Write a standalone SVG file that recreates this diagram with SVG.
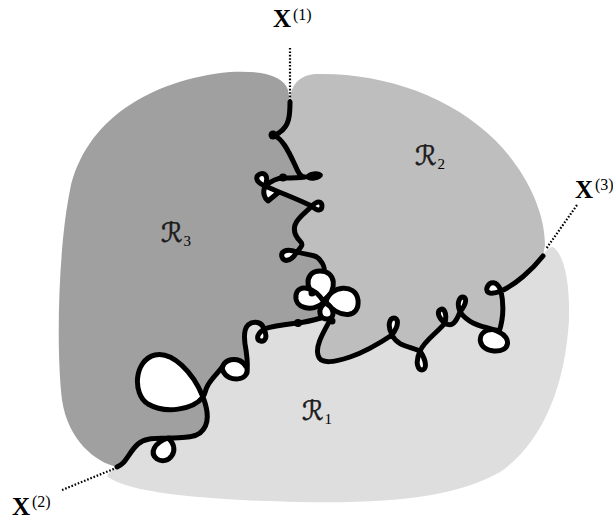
<svg xmlns="http://www.w3.org/2000/svg" width="613" height="523" viewBox="0 0 613 523">
<style>
.r1{fill:#dedede}
.r2{fill:#bebebe}
.r3{fill:#a0a0a0}
.hole{fill:#fff}
.curve{fill:none;stroke:#000;stroke-width:5;stroke-linecap:round;stroke-linejoin:round}
.loop{fill:#fff;stroke:#000;stroke-width:5;stroke-linejoin:round}
.dot{fill:#000}
.dots{fill:none;stroke:#000;stroke-width:2.2;stroke-dasharray:1.6 1.8}
.xl{font-family:"Liberation Serif",serif;font-weight:bold;font-size:25px;fill:#000}
.sup{font-family:"Liberation Serif",serif;font-weight:normal;font-size:16px;fill:#000}
.rl{font-family:"DejaVu Serif","DejaVu Sans",serif;font-size:27px;fill:#1a1a1a;stroke:#1a1a1a;stroke-width:0.5}
.sub{font-family:"Liberation Serif",serif;font-size:15px;fill:#000;stroke:none}
</style>
<g id="regions">
<path id="R1" class="r1" d="M 117 467 C 112 470 108 473 107 476 C 125 492 200 500 300 502 C 400 504 460 495 500 472 C 540 445 565 390 569 320 C 570 285 565 255 553 247 C 549 247 545 251 543 256 L 450 250 L 330 290 L 200 350 Z"/>
<path id="R2" class="r2" d="M 330 320 C 325 330 315 345 318 355 C 320 365 335 362 350 357 C 365 352 380 343 392 335 C 408.7 312.4 380.7 312.4 392 335 C 398 347 410 346 420 351 C 436.7 376.3 408.7 376.3 420 351 C 425 340 437 333 445 323 C 450 300 428 310 445 323 C 452 328 456 322 460 312 C 476 292 452 292 460 312 C 472 328 488 326 499 332 C 512 338 510 352 494 351 C 478 350 476 334 488 330 C 493 329 497 330 499 332 C 503 320 504 305 501 291 C 492 268 474 302 501 291 C 515 285 532 270 543 256 L 545 245 C 545 210 525 170 495 140 C 450 95 380 72 315 74 C 296 76 291 88 290 100 L 255 150 L 250 300 L 322 300 Z"/>
<path id="R3" class="r3" d="M 117 467 C 95 462 68 440 62 400 C 56 350 58 250 70 190 C 85 120 150 80 230 72 C 262 70 284 76 288 90 L 290 102 C 290 116 289 126 280 132 C 278 134 276 135 273 135 C 282 138 288 150 295 165 C 298 172 300 177 305 177 C 298 178 290 178 283 178 C 276 178 270 182 265 186 C 242.7 176.5 273.9 163.5 265 186 C 262 193 265 199 268 201 L 279 192 C 292 197 303 202 312 206 C 325.3 220 325.3 192 312 206 C 305 213 297 218 295 225 C 293 232 296 237 300 241 C 304 245 301 247 297 252 C 282.4 274.9 271.6 242.5 297 252 C 306 255 316 254 320 260 C 324 265 325 268 324 273 L 321 318 C 314 320 306 322 298 323 C 290 324 276 325 264 329 C 246 342 273 348 264 329 C 262 322 254 320 248 325 C 243 330 244 340 246 350 C 247 358 248 364 247 368 C 250 381 228 383 223 371 L 223 366 C 218 373 212 378 208 385 C 205 390 206 392 203 397 C 193 410 165 414 148 404 C 132 394 134 360 155 355 C 172 351 193 372 203 397 C 208 410 210 425 200 433 C 192 439 180 437 170 438 C 158 439 146 437 138 444 C 131 450 128 458 123 463 C 121 465 119 466 117 467 Z"/>
</g>
<g id="holes">
<path class="hole" d="M 265 186 C 242.7 176.5 273.9 163.5 265 186 Z"/>
<path class="hole" d="M 265 186 L 268 201 L 279 192 Z"/>
<path class="hole" d="M 312 206 C 325.3 220 325.3 192 312 206 Z"/>
<path class="hole" d="M 297 252 C 282.4 274.9 271.6 242.5 297 252 Z"/>
<path class="hole" d="M 264 329 C 246 342 273 348 264 329 Z"/>
<path class="hole" d="M 203 397 C 193 410 165 414 148 404 C 132 394 134 360 155 355 C 172 351 193 372 203 397 Z"/>
<path class="hole" d="M 392 335 C 408.7 312.4 380.7 312.4 392 335 Z"/>
<path class="hole" d="M 420 351 C 436.7 376.3 408.7 376.3 420 351 Z"/>
<path class="hole" d="M 445 323 C 450 300 428 310 445 323 Z"/>
<path class="hole" d="M 460 312 C 476 292 452 292 460 312 Z"/>
<path class="hole" d="M 499 332 C 512 338 510 352 494 351 C 478 350 476 334 488 330 C 493 329 497 330 499 332 Z"/>
<path class="hole" d="M 501 291 C 492 268 474 302 501 291 Z"/>
</g>
<g id="dotted-ends">
<path class="dots" d="M 290 48 L 290 100"/>
<path class="dots" d="M 62 490 L 116 468"/>
<path class="dots" d="M 577 205 L 546 249"/>
</g>
<g id="curves">
<path id="curve1" class="curve" d="M 290 102 C 290 116 289 126 280 132 C 278 134 276 135 273 135 C 282 138 288 150 295 165 C 298 172 300 177 305 177 C 298 178 290 178 283 178 C 276 178 270 182 265 186 C 242.7 176.5 273.9 163.5 265 186 C 262 193 265 199 268 201 L 279 192 C 292 197 303 202 312 206 C 325.3 220 325.3 192 312 206 C 305 213 297 218 295 225 C 293 232 296 237 300 241 C 304 245 301 247 297 252 C 282.4 274.9 271.6 242.5 297 252 C 306 255 316 254 320 260 C 324 265 325 268 324 273 M 265 186 L 279 192"/>
<path id="curve2" class="curve" d="M 321 318 C 314 320 306 322 298 323 C 290 324 276 325 264 329 C 246 342 273 348 264 329 C 262 322 254 320 248 325 C 243 330 244 340 246 350 C 247 358 248 364 247 368 M 223 366 C 218 373 212 378 208 385 C 205 390 206 392 203 397 C 193 410 165 414 148 404 C 132 394 134 360 155 355 C 172 351 193 372 203 397 C 208 410 210 425 200 433 C 192 439 180 437 170 438 C 158 439 146 437 138 444 C 131 450 128 458 123 463 C 121 465 119 466 117 467"/>
<path id="curve3" class="curve" d="M 330 320 C 325 330 315 345 318 355 C 320 365 335 362 350 357 C 365 352 380 343 392 335 C 408.7 312.4 380.7 312.4 392 335 C 398 347 410 346 420 351 C 436.7 376.3 408.7 376.3 420 351 C 425 340 437 333 445 323 C 450 300 428 310 445 323 C 452 328 456 322 460 312 C 476 292 452 292 460 312 C 472 328 488 326 499 332 C 512 338 510 352 494 351 C 478 350 476 334 488 330 C 493 329 497 330 499 332 C 503 320 504 305 501 291 C 492 268 474 302 501 291 C 515 285 532 270 543 256"/>
<path class="loop" d="M 247 368 C 250 381 228 383 223 371 C 219 360 240 353 247 368 Z"/>
<path class="loop" d="M 168 438 C 182 450 168 466 157 459 C 149 453 154 443 168 438 Z"/>
<g id="knot">
<path class="loop" d="M 324 300 C 305 297 302 271 320 271 C 336 271 338 290 324 300 Z"/>
<path class="loop" d="M 324 302 C 312 313 294 308 296 295 C 298 284 314 286 324 302 Z"/>
<path class="loop" d="M 326 302 C 330 285 356 283 358 300 C 360 318 340 320 326 302 Z"/>
<path class="loop" d="M 325 303 C 316 310 320 320 328 319 C 336 318 334 307 325 303 Z"/>
</g>
<circle class="dot" cx="273" cy="135" r="4.5"/>
<circle class="dot" cx="283" cy="177.5" r="4"/>
<ellipse class="dot" cx="314" cy="176" rx="9" ry="4.5" transform="rotate(-8 314 176)"/>
<circle class="dot" cx="298" cy="323" r="4"/>
<circle class="dot" cx="312" cy="293" r="3.5"/>
<circle class="dot" cx="332" cy="321" r="3.5"/>
</g>
<g id="labels">
<text class="xl" x="273" y="27">X<tspan class="sup" x="293" y="20">(1)</tspan></text>
<text class="xl" x="12" y="515">X<tspan class="sup" x="32" y="507">(2)</tspan></text>
<text class="xl" x="575" y="198">X<tspan class="sup" x="595" y="190">(3)</tspan></text>
<text class="rl" x="302" y="420">ℛ<tspan class="sub" dx="1" dy="4">1</tspan></text>
<text class="rl" x="415" y="165">ℛ<tspan class="sub" dx="1" dy="4">2</tspan></text>
<text class="rl" x="161" y="242">ℛ<tspan class="sub" dx="1" dy="4">3</tspan></text>
</g>
</svg>
